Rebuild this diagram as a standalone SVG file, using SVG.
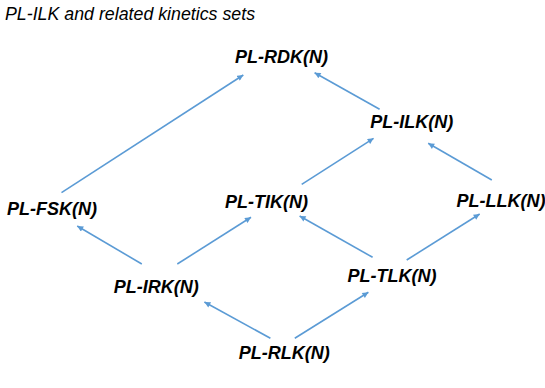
<svg xmlns="http://www.w3.org/2000/svg" width="545" height="388" viewBox="0 0 545 388">
<defs>
<marker id="ah" viewBox="0 0 10 10" refX="10" refY="5" markerUnits="userSpaceOnUse" markerWidth="7" markerHeight="6" orient="auto">
<path d="M0,0 L10,5 L0,10 z" fill="#5B9BD5"/>
</marker>
<style>
.lbl{font-family:"Liberation Sans",Arial,sans-serif;font-weight:bold;font-style:italic;font-size:18px;fill:#000;text-anchor:middle}
.title{font-family:"Liberation Sans",Arial,sans-serif;font-style:italic;font-size:17.8px;fill:#000}
.c{stroke:#5B9BD5;stroke-width:1.6;fill:none;marker-end:url(#ah)}
</style>
</defs>
<rect width="545" height="388" fill="#fff"/>
<text class="title" x="5" y="20">PL-ILK and related kinetics sets</text>
<g id="connectors">
<line class="c" x1="61.5" y1="192.7" x2="243.3" y2="75"/>
<line class="c" x1="379.6" y1="109.3" x2="314.6" y2="72.7"/>
<line class="c" x1="301.7" y1="184.3" x2="373.6" y2="138.3"/>
<line class="c" x1="491.8" y1="180" x2="428.2" y2="143.3"/>
<line class="c" x1="141.8" y1="264" x2="77.2" y2="226"/>
<line class="c" x1="177.3" y1="264" x2="251" y2="217.3"/>
<line class="c" x1="372.6" y1="257.3" x2="299.6" y2="216"/>
<line class="c" x1="406.7" y1="260" x2="479.7" y2="214"/>
<line class="c" x1="270.4" y1="338.3" x2="204.4" y2="302"/>
<line class="c" x1="294.8" y1="338.3" x2="368.4" y2="292.3"/>
</g>
<g id="rdk"><text class="lbl" x="281.5" y="63">PL-RDK(N)</text></g>
<g id="ilk"><text class="lbl" x="411.8" y="128">PL-ILK(N)</text></g>
<g id="fsk"><text class="lbl" x="52" y="215">PL-FSK(N)</text></g>
<g id="tik"><text class="lbl" x="266.4" y="208">PL-TIK(N)</text></g>
<g id="llk"><text class="lbl" x="501" y="206.5">PL-LLK(N)</text></g>
<g id="irk"><text class="lbl" x="156.3" y="293">PL-IRK(N)</text></g>
<g id="tlk"><text class="lbl" x="392" y="282">PL-TLK(N)</text></g>
<g id="rlk"><text class="lbl" x="284.3" y="359">PL-RLK(N)</text></g>
</svg>
